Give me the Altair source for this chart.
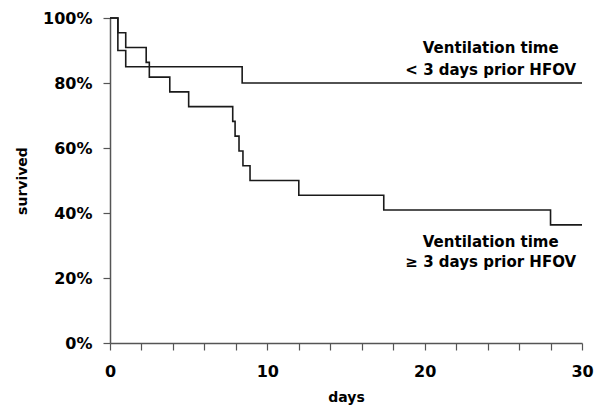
import altair as alt
import pandas as pd

# Kaplan-Meier curves (days, % survived)
group_a_label = "< 3 days"
group_a_days = [0, 0.5, 1.0, 8.4, 30]
group_a_surv = [100, 90, 85, 80, 80]

group_b_label = ">= 3 days"
group_b_days = [0, 0.5, 1.0, 2.3, 2.5, 3.8, 5.0, 7.8, 7.95, 8.2, 8.45, 8.9, 12.0, 17.4, 28.0, 30]
group_b_surv = [100, 95.45, 90.91, 86.36, 81.82, 77.27, 72.73, 68.18, 63.64, 59.09,
                54.55, 50.0, 45.45, 40.91, 36.36, 36.36]

x_ticks = list(range(0, 31, 2))
y_ticks = [0, 20, 40, 60, 80, 100]

ann_text = ["Ventilation time", "< 3 days prior HFOV",
            "Ventilation time", "\u2265 3 days prior HFOV"]
ann_x = [24.2, 24.2, 24.2, 24.2]
ann_y = [90.8, 84.0, 31.2, 24.8]

rows = []
for d, s in zip(group_a_days, group_a_surv):
    rows.append({"group": group_a_label, "days": d, "surv": s})
for d, s in zip(group_b_days, group_b_surv):
    rows.append({"group": group_b_label, "days": d, "surv": s})
df = pd.DataFrame(rows)
ann = pd.DataFrame({"text": ann_text, "x": ann_x, "y": ann_y})

FONT = "DejaVu Sans"

xscale = alt.Scale(domain=[0, 30], nice=False)
yscale = alt.Scale(domain=[0, 100], nice=False)

lines = alt.Chart(df).mark_line(interpolate="step-after", color="#1a1a1a", strokeWidth=1.6).encode(
    x=alt.X("days:Q", scale=xscale, title="days",
            axis=alt.Axis(values=x_ticks, tickCount=len(x_ticks),
                          labelExpr="datum.value % 10 == 0 ? datum.label : ''",
                          labelOverlap=False, labelBound=False,
                          grid=False, domainColor="#555555", tickColor="#555555",
                          domainWidth=1.5, tickWidth=1.2, tickSize=7,
                          labelFont=FONT, labelFontSize=16, labelFontWeight="bold", labelColor="black",
                          labelPadding=13, labelFlush=False,
                          titleFont=FONT, titleFontSize=14, titleFontWeight="bold", titleColor="black",
                          titleY=54, titleBaseline="middle")),
    y=alt.Y("surv:Q", scale=yscale, title="survived",
            axis=alt.Axis(values=y_ticks, tickCount=len(y_ticks),
                          labelExpr="datum.value + '%'",
                          labelOverlap=False, labelBound=False,
                          grid=False, domainColor="#555555", tickColor="#555555",
                          domainWidth=1.5, tickWidth=1.2, tickSize=7,
                          labelFont=FONT, labelFontSize=16, labelFontWeight="bold", labelColor="black",
                          labelPadding=11, labelFlush=False,
                          titleFont=FONT, titleFontSize=14, titleFontWeight="bold", titleColor="black",
                          titleAngle=-90, titleX=-88, titleY=162.5,
                          titleAlign="center", titleBaseline="middle")),
    detail="group:N",
    order="days:Q",
)

texts = alt.Chart(ann).mark_text(font=FONT, fontSize=15, fontWeight="bold", color="black",
                                 align="center", baseline="middle").encode(
    x=alt.X("x:Q", scale=xscale),
    y=alt.Y("y:Q", scale=yscale),
    text="text:N",
)

chart = (lines + texts).properties(
    width=472, height=325,
    autosize=alt.AutoSizeParams(type="none"),
    padding={"left": 110, "top": 18, "right": 20, "bottom": 65},
    background="white",
).configure_view(stroke=None)

chart.save("out.html", embed_options={"renderer": "svg", "actions": False})
